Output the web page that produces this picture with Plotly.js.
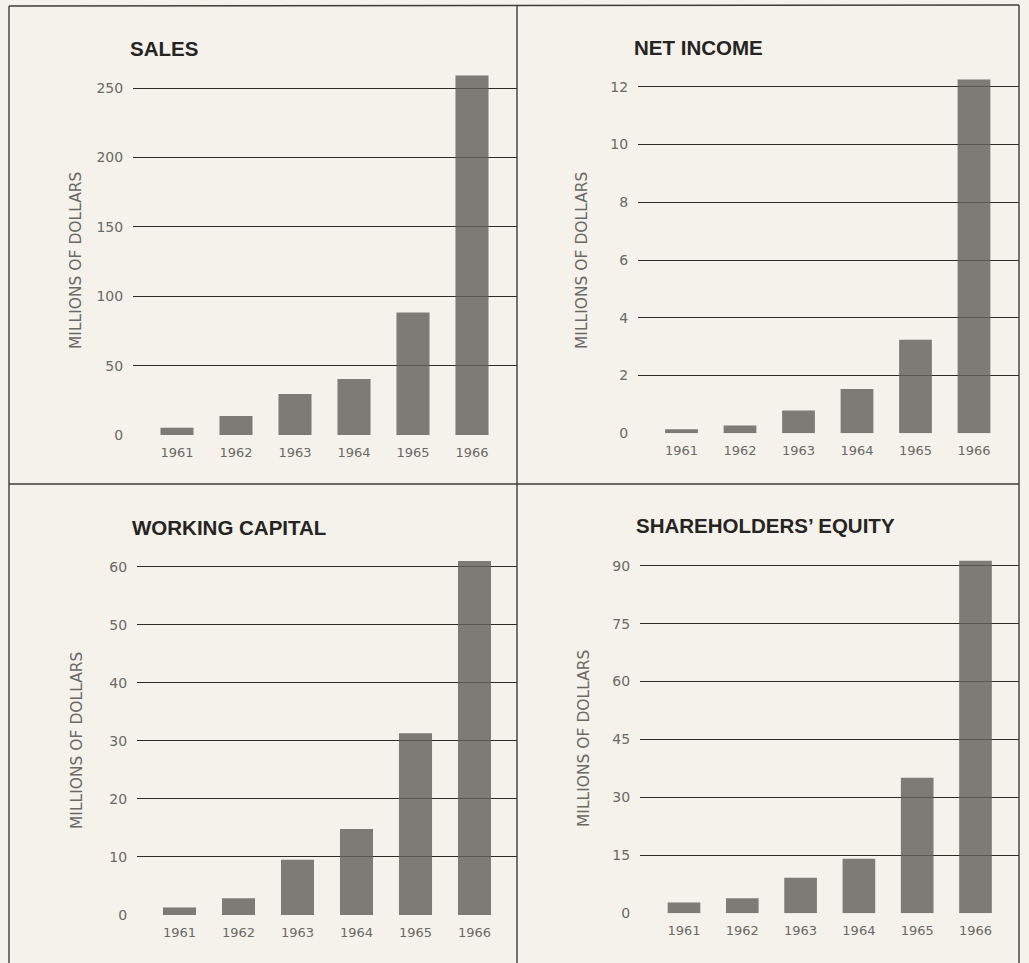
<!DOCTYPE html>
<html>
<head>
<meta charset="utf-8">
<script src="https://cdn.plot.ly/plotly-3.0.1.min.js"></script>
<style>html,body{margin:0;padding:0;background:#f4f2ea;}#chart{width:1029px;height:963px;}</style>
</head>
<body>
<div id="chart"></div>
<script>
// ---- data ----
const years = ["1961", "1962", "1963", "1964", "1965", "1966"];
const sales = [5.3, 13.7, 29.6, 40.4, 88.2, 259];
const netIncome = [0.14, 0.27, 0.79, 1.53, 3.24, 12.25];
const workingCapital = [1.3, 2.9, 9.5, 14.8, 31.3, 61.0];
const shareholdersEquity = [2.8, 3.9, 9.2, 14.1, 35.1, 91.3];
const panelTitles = ["SALES", "NET INCOME", "WORKING CAPITAL", "SHAREHOLDERS\u2019 EQUITY"];
const yTitle = "MILLIONS OF DOLLARS";
const yTickStep = [50, 2, 10, 15];
const yTopTick = [250, 12, 60, 90];

// ---- layout geometry (pixels) ----
const W = 1029, H = 963;
const geo = [
  {x0: 133, x1: 517, c0: 177,   c5: 472,   zero: 435,   topTickPx: 88,    topPx: 66,  titleX: 128, titleY: 48,  ytX: 76,  ytY: 261},
  {x0: 638, x1: 1019, c0: 681.5, c5: 974,  zero: 433.3, topTickPx: 86.7,  topPx: 66,  titleX: 632, titleY: 47,  ytX: 582, ytY: 261},
  {x0: 137, x1: 517, c0: 179.5, c5: 474.5, zero: 915,   topTickPx: 566.7, topPx: 546, titleX: 130, titleY: 527, ytX: 77,  ytY: 741},
  {x0: 640, x1: 1019, c0: 684,  c5: 975.5, zero: 913.3, topTickPx: 565.7, topPx: 546, titleX: 634, titleY: 525, ytX: 584, ytY: 739}
];
const series = [sales, netIncome, workingCapital, shareholdersEquity];

const bg = "#f4f2ea";
const gridColor = "#2e2c2a";
const barColor = "rgba(98,96,93,0.82)";
const tickFont = {family: "DejaVu Sans", size: 13, color: "#6b6966"};
const yTickFont = {family: "DejaVu Sans", size: 14, color: "#6b6966"};

const traces = [];
const layout = {
  width: W, height: H,
  margin: {l: 0, r: 0, t: 0, b: 0, pad: 0},
  paper_bgcolor: bg, plot_bgcolor: "rgba(0,0,0,0)",
  showlegend: false,
  annotations: [],
  shapes: []
};

geo.forEach((g, i) => {
  const n = i + 1;
  const xa = n === 1 ? "x" : "x" + n;
  const ya = n === 1 ? "y" : "y" + n;
  const xk = n === 1 ? "xaxis" : "xaxis" + n;
  const yk = n === 1 ? "yaxis" : "yaxis" + n;
  traces.push({
    type: "bar", x: years, y: series[i], xaxis: xa, yaxis: ya,
    width: 0.56, marker: {color: barColor, line: {width: 0}},
    hoverinfo: "x+y"
  });
  const pxPer = (g.c5 - g.c0) / 5;
  layout[xk] = {
    type: "category", anchor: ya,
    domain: [g.x0 / W, g.x1 / W],
    range: [-(g.c0 - g.x0) / pxPer, 5 + (g.x1 - g.c5) / pxPer],
    showgrid: false, zeroline: false, showline: false,
    ticks: "outside", ticklen: 5, tickcolor: "rgba(0,0,0,0)",
    tickfont: tickFont, fixedrange: true
  };
  const yPxPerUnit = (g.zero - g.topTickPx) / yTopTick[i];
  layout[yk] = {
    anchor: xa,
    domain: [1 - g.zero / H, 1 - g.topPx / H],
    range: [0, (g.zero - g.topPx) / yPxPerUnit],
    tick0: 0, dtick: yTickStep[i],
    showgrid: true, gridcolor: gridColor, gridwidth: 1,
    zeroline: false, showline: false,
    ticks: "outside", ticklen: 6, tickcolor: "rgba(0,0,0,0)",
    tickfont: yTickFont, fixedrange: true
  };
  layout.annotations.push({
    xref: "paper", yref: "paper", x: g.titleX / W, y: 1 - g.titleY / H,
    xanchor: "left", yanchor: "middle", showarrow: false,
    text: "<b>" + panelTitles[i] + "</b>",
    font: {family: "Liberation Sans", size: 20.5, color: "#262422"}
  });
  layout.annotations.push({
    xref: "paper", yref: "paper", x: g.ytX / W, y: 1 - g.ytY / H,
    xanchor: "center", yanchor: "middle", showarrow: false, textangle: -90,
    text: yTitle,
    font: {family: "DejaVu Sans", size: 15.5, color: "#6b6966"}
  });
});

// panel frame lines
const frame = {color: "#3e3c3a", width: 1.4};
const px = v => v / W, py = v => 1 - v / H;
[
  [9, 6, 9, H], [517, 6, 517, H], [1019, 5, 1019, H],
  [9, 6, 1019, 5], [9, 484, 1019, 484]
].forEach(s => layout.shapes.push({
  type: "line", xref: "paper", yref: "paper",
  x0: px(s[0]), y0: py(s[1]), x1: px(s[2]), y1: py(s[3]), line: frame
}));

Plotly.newPlot("chart", traces, layout, {displayModeBar: false, staticPlot: true});
</script>
</body>
</html>
